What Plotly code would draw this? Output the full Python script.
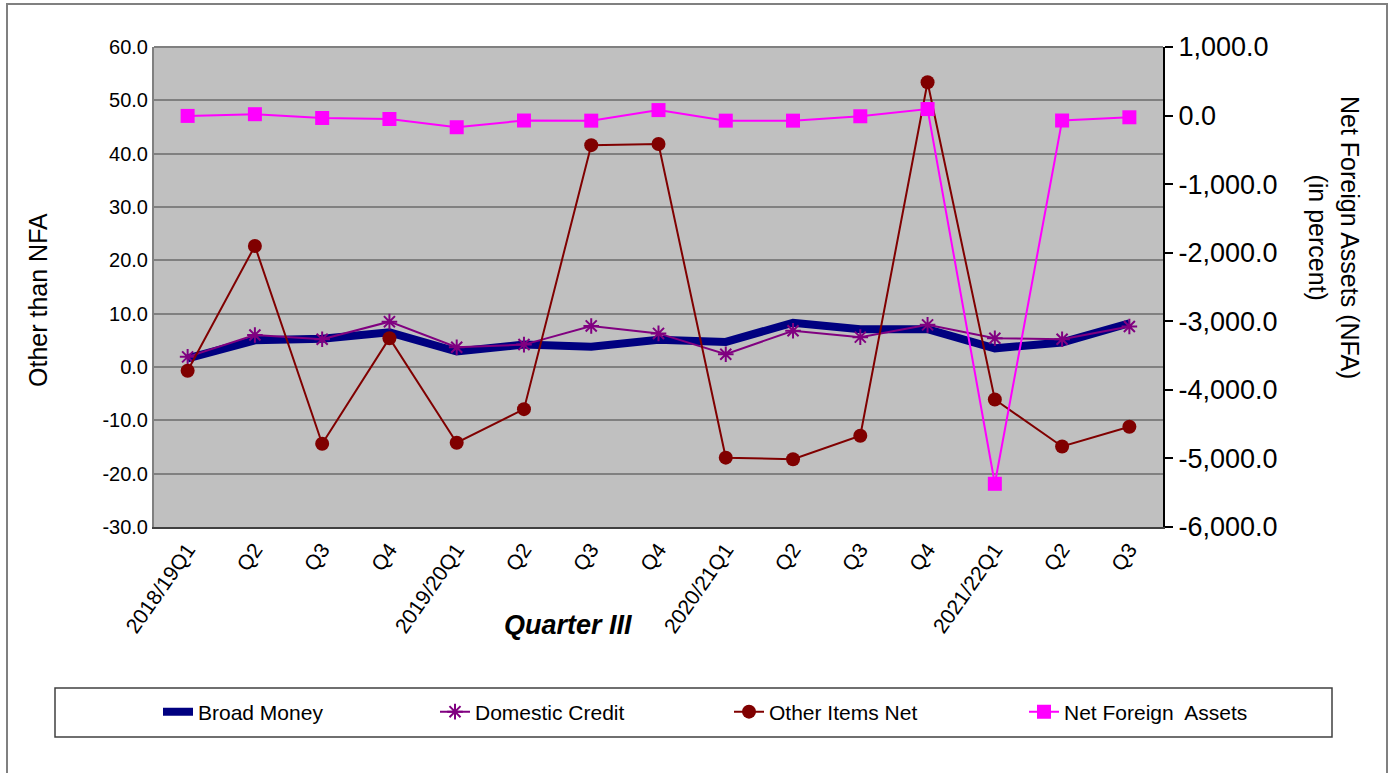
import plotly.graph_objects as go

quarters = ["2018/19Q1", "Q2", "Q3", "Q4", "2019/20Q1", "Q2 ", "Q3 ", "Q4 ",
            "2020/21Q1", "Q2  ", "Q3  ", "Q4  ", "2021/22Q1", "Q2   ", "Q3   "]
tick_text = ["2018/19Q1", "Q2", "Q3", "Q4", "2019/20Q1", "Q2", "Q3", "Q4",
             "2020/21Q1", "Q2", "Q3", "Q4", "2021/22Q1", "Q2", "Q3"]

broad_money = [1.6, 5.0, 5.3, 6.5, 2.9, 4.2, 3.8, 5.1, 4.7, 8.3, 7.1, 7.1, 3.5, 4.6, 8.2]
domestic_credit = [1.9, 6.0, 5.2, 8.5, 3.7, 4.2, 7.7, 6.3, 2.4, 6.8, 5.6, 7.9, 5.4, 5.2, 7.6]
other_items_net = [-0.7, 22.7, -14.4, 5.4, -14.2, -7.9, 41.6, 41.8, -17.0, -17.3, -12.9, 53.4, -6.1, -14.9, -11.2]
net_foreign_assets = [-5, 20, -35, -50, -170, -72, -74, 80, -74, -74, -10, 95, -5370, -72, -25]

left_ticks = [60, 50, 40, 30, 20, 10, 0, -10, -20, -30]
left_labels = ["60.0", "50.0", "40.0", "30.0", "20.0", "10.0", "0.0", "-10.0", "-20.0", "-30.0"]
right_ticks = [1000, 0, -1000, -2000, -3000, -4000, -5000, -6000]
right_labels = ["1,000.0", "0.0", "-1,000.0", "-2,000.0", "-3,000.0", "-4,000.0", "-5,000.0", "-6,000.0"]

FONT = "Arial, Liberation Sans, sans-serif"

W, H = 1390, 773
L, R, T, B = 154, 227, 47, 246
PW, PH = W - L - R, H - T - B


def px(x):
    return (x - L) / PW


def py(y):
    return (H - B - y) / PH


fig = go.Figure()
fig.add_trace(go.Scatter(x=quarters, y=broad_money, name="Broad Money", mode="lines",
                         line=dict(color="#000080", width=8), legend="legend"))
fig.add_trace(go.Scatter(x=quarters, y=domestic_credit, name="Domestic Credit", mode="lines+markers",
                         line=dict(color="#800080", width=2), legend="legend2",
                         marker=dict(symbol="asterisk-open", size=13, color="#800080",
                                     line=dict(color="#800080", width=2))))
fig.add_trace(go.Scatter(x=quarters, y=other_items_net, name="Other Items Net", mode="lines+markers",
                         line=dict(color="#800000", width=2), legend="legend3",
                         marker=dict(symbol="circle", size=14, color="#800000")))
fig.add_trace(go.Scatter(x=quarters, y=net_foreign_assets, name="Net Foreign  Assets", mode="lines+markers",
                         yaxis="y2", line=dict(color="#FF00FF", width=2), legend="legend4",
                         marker=dict(symbol="square", size=14, color="#FF00FF")))


def leg(x_text):
    return dict(orientation="h", x=px(x_text - 42), xanchor="left", y=py(712), yanchor="middle",
                font=dict(size=21, family=FONT), bgcolor="rgba(0,0,0,0)")


fig.update_layout(
    width=W, height=H,
    margin=dict(l=L, r=R, t=T, b=B, pad=0),
    paper_bgcolor="white",
    plot_bgcolor="#C0C0C0",
    font=dict(family=FONT, color="black"),
    showlegend=True,
    legend=leg(200), legend2=leg(477), legend3=leg(771), legend4=leg(1066),
    xaxis=dict(type="category", tickmode="array", tickvals=quarters, ticktext=tick_text,
               range=[-0.5, 14.5],
               tickangle=-55, tickfont=dict(size=21), showgrid=False, ticks="",
               showline=True, linecolor="#404040", linewidth=2, zeroline=False),
    yaxis=dict(range=[-30, 60], tickmode="array", tickvals=left_ticks, ticktext=left_labels,
               tickfont=dict(size=20),
               showgrid=True, gridcolor="#808080", gridwidth=2, zeroline=False,
               showline=True, linecolor="#808080", linewidth=2, ticks=""),
    yaxis2=dict(range=[-6000, 1000], tickmode="array", tickvals=right_ticks, ticktext=right_labels,
                tickfont=dict(size=27),
                overlaying="y", side="right", showgrid=False, zeroline=False,
                showline=True, linecolor="black", linewidth=2, ticks="outside",
                ticklen=8, tickcolor="black", tickwidth=1.5),
    shapes=[
        dict(type="rect", xref="paper", yref="paper", x0=px(7), x1=px(1387), y0=py(776), y1=py(4),
             line=dict(color="#808080", width=2), layer="below"),
        dict(type="rect", xref="paper", yref="paper", x0=px(55), x1=px(1332), y0=py(737), y1=py(688),
             line=dict(color="#404040", width=1.5)),
        dict(type="line", xref="paper", yref="paper", x0=0, x1=1, y0=1, y1=1,
             line=dict(color="#808080", width=2)),
    ],
    annotations=[
        dict(text="Other than NFA", xref="paper", yref="paper", x=px(38), y=py(300),
             textangle=-90, showarrow=False, font=dict(size=25, family=FONT),
             xanchor="center", yanchor="middle"),
        dict(text="Net Foreign Assets (NFA)<br>(in percent)", xref="paper", yref="paper",
             x=px(1334), y=py(237), textangle=90, showarrow=False,
             font=dict(size=25, family=FONT), xanchor="center", yanchor="middle"),
        dict(text="<b><i>Quarter III</i></b>", xref="paper", yref="paper", x=px(568), y=py(625),
             showarrow=False, font=dict(size=27, family=FONT), xanchor="center", yanchor="middle"),
    ],
)

fig.write_html("out.html")
